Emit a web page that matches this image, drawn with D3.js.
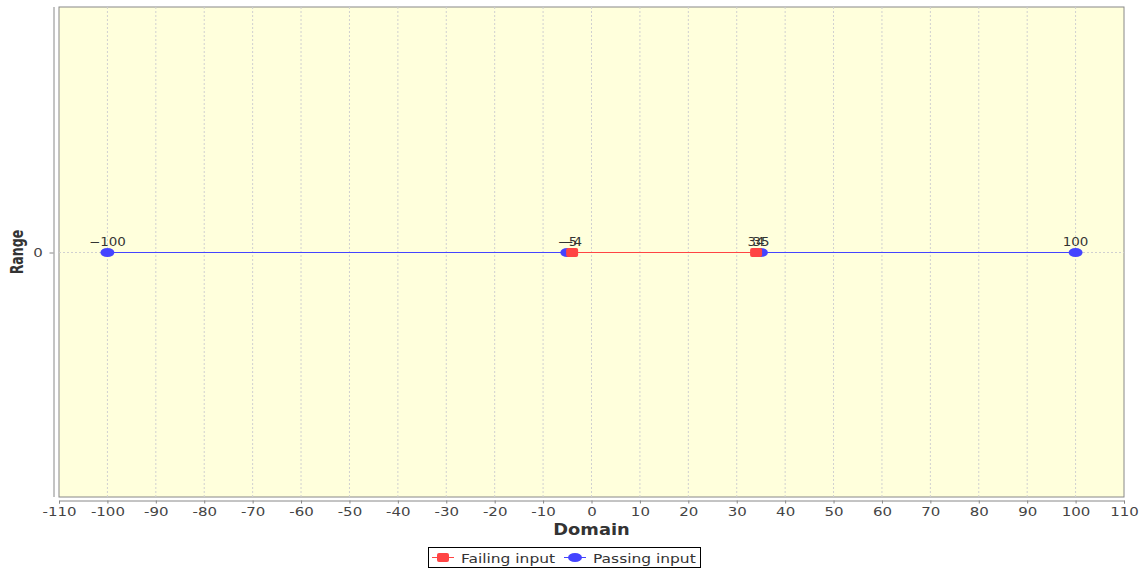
<!DOCTYPE html>
<html><head><meta charset="utf-8">
<script src="https://cdn.jsdelivr.net/npm/d3@7"></script>
<style>body{margin:0;background:#fff}svg{display:block}</style>
</head><body>
<script>
const failingX = [-4, 34];
const failingY = [0, 0];
const passingX = [-100, -5, 35, 100];
const passingY = [0, 0, 0, 0];
const xTicks = [-110,-100,-90,-80,-70,-60,-50,-40,-30,-20,-10,0,10,20,30,40,50,60,70,80,90,100,110];
const yTicks = [0];
const seriesNames = ["Failing input", "Passing input"];
const colors = {fail: "#ff4444", pass: "#4444ff"};

const W = 1143, H = 570;
const SX = 1.2; // horizontal stretch of text
const pLeft = 59, pRight = 1124, pTop = 7, pBottom = 497;
const svg = d3.select("body").append("svg").attr("width", W).attr("height", H);
const x = d3.scaleLinear().domain([-110, 110]).range([pLeft, pRight]);
const y = d3.scaleLinear().domain([-1, 1]).range([pBottom, pTop + 1]);

svg.append("rect").attr("x", pLeft).attr("y", pTop).attr("width", pRight-pLeft).attr("height", pBottom-pTop)
  .attr("fill", "#ffffdc").attr("stroke", "#888").attr("stroke-width", 1);

// grid
svg.append("g").selectAll("line").data(xTicks.slice(1, -1)).join("line")
  .attr("x1", d => x(d)).attr("x2", d => x(d)).attr("y1", pTop).attr("y2", pBottom)
  .attr("stroke", "#d0d0d0").attr("stroke-dasharray", "2,2").attr("stroke-width", 1);
svg.append("g").selectAll("line").data(yTicks).join("line")
  .attr("x1", pLeft).attr("x2", pRight).attr("y1", d => y(d)).attr("y2", d => y(d))
  .attr("stroke", "#d0d0d0").attr("stroke-dasharray", "2,2");

// axes
const xAxis = svg.append("g").attr("transform", `translate(0,${pBottom + 3.5})`)
  .call(d3.axisBottom(x).tickValues(xTicks).tickSize(3).tickPadding(4).tickFormat(d => String(d)));
xAxis.select(".domain").attr("stroke", "#888");
xAxis.selectAll(".tick line").attr("stroke", "#888");
xAxis.selectAll("text").attr("font-family", "DejaVu Sans").attr("font-size", 12.5).attr("fill", "#444")
  .attr("transform", `scale(${SX},1)`);

const yAxis = svg.append("g").attr("transform", `translate(${pLeft - 5.5},0)`)
  .call(d3.axisLeft(y).tickValues(yTicks).tickSize(4).tickPadding(5).tickSizeOuter(0).tickFormat(d => String(d)));
yAxis.select(".domain").attr("stroke", "#888").attr("d", `M0.5,${pTop}V${pBottom}`);
yAxis.selectAll(".tick line").attr("stroke", "#888");
yAxis.selectAll("text").attr("font-family", "DejaVu Sans").attr("font-size", 12.5).attr("fill", "#444")
  .attr("transform", `scale(${SX},1)`);

svg.append("text").attr("transform", `translate(${(pLeft + pRight) / 2},535) scale(1.19,1)`).attr("text-anchor", "middle")
  .attr("font-family", "DejaVu Sans").attr("font-weight", "bold").attr("font-size", 15).attr("fill", "#333")
  .text("Domain");
svg.append("text").attr("transform", `translate(22.5,${(pTop + pBottom) / 2}) scale(1.25,1) rotate(-90)`).attr("text-anchor", "middle")
  .attr("font-family", "DejaVu Sans Condensed, DejaVu Sans").attr("font-stretch", "condensed")
  .attr("font-weight", "bold").attr("font-size", 14).attr("fill", "#333")
  .text("Range");

const line = d3.line().x(d => x(d[0])).y(d => y(d[1]));
const pass = passingX.map((v, i) => [v, passingY[i]]);
const fail = failingX.map((v, i) => [v, failingY[i]]);

svg.append("path").datum(pass).attr("d", line).attr("fill", "none").attr("stroke", colors.pass).attr("stroke-width", 1);
svg.append("path").datum(fail).attr("d", line).attr("fill", "none").attr("stroke", colors.fail).attr("stroke-width", 1);

svg.append("g").selectAll("ellipse").data(pass).join("ellipse")
  .attr("cx", d => x(d[0])).attr("cy", d => y(d[1])).attr("rx", 7).attr("ry", 4.5).attr("fill", colors.pass);
svg.append("g").selectAll("rect").data(fail).join("rect")
  .attr("x", d => x(d[0]) - 6).attr("y", d => y(d[1]) - 4.5).attr("width", 12).attr("height", 9)
  .attr("rx", 2).attr("fill", colors.fail);

const labels = pass.concat(fail);
svg.append("g").selectAll("text").data(labels).join("text")
  .attr("transform", d => `translate(${x(d[0])},${y(d[1]) - 7}) scale(1.12,1)`).attr("text-anchor", "middle")
  .attr("font-family", "DejaVu Sans").attr("font-size", 12).attr("fill", "#333")
  .text(d => d[0] < 0 ? "\u2212" + Math.abs(d[0]) : String(d[0]));

// legend
const lg = svg.append("g");
lg.append("rect").attr("x", 428.5).attr("y", 547.5).attr("width", 272).attr("height", 20)
  .attr("fill", "#fff").attr("stroke", "#000");
const items = [
  {name: seriesNames[0], c: colors.fail, shape: "rect", x0: 432},
  {name: seriesNames[1], c: colors.pass, shape: "ellipse", x0: 564}
];
items.forEach(it => {
  const g = lg.append("g");
  g.append("line").attr("x1", it.x0).attr("x2", it.x0 + 22).attr("y1", 557.5).attr("y2", 557.5).attr("stroke", it.c);
  if (it.shape === "rect") g.append("rect").attr("x", it.x0 + 5).attr("y", 553).attr("width", 12).attr("height", 9).attr("rx", 2).attr("fill", it.c);
  else g.append("ellipse").attr("cx", it.x0 + 11).attr("cy", 557.5).attr("rx", 7).attr("ry", 4.5).attr("fill", it.c);
  g.append("text").attr("transform", `translate(${it.x0 + 29},563) scale(1.19,1)`).attr("font-family", "DejaVu Sans").attr("font-size", 13)
    .attr("fill", "#333").text(it.name);
});
</script>
</body></html>
